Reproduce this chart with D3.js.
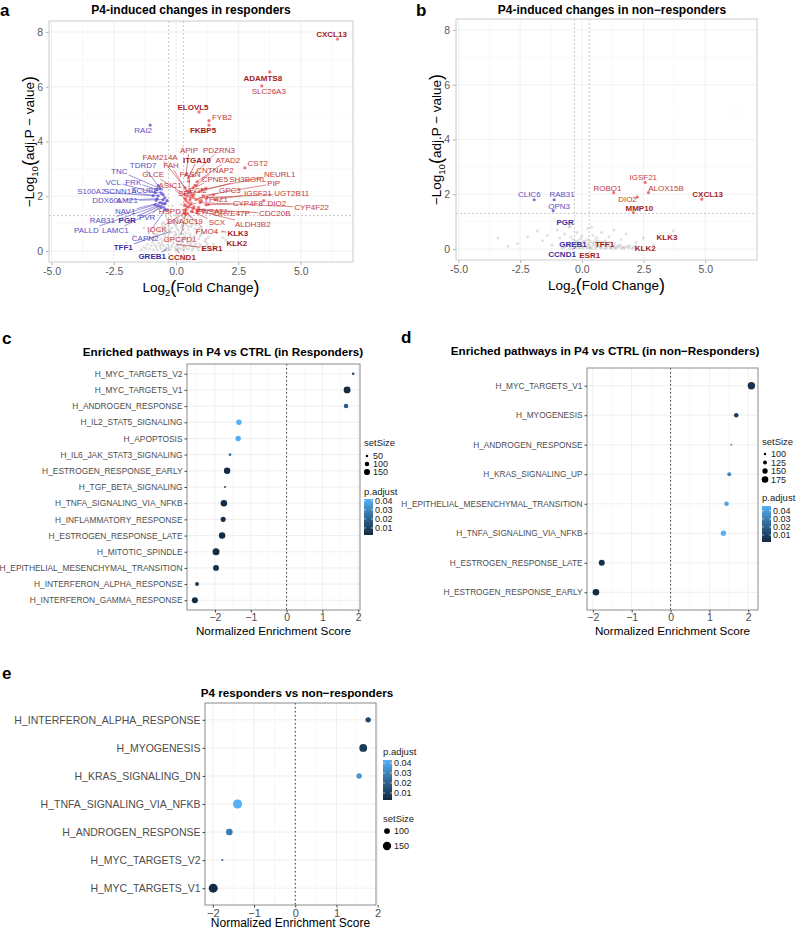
<!DOCTYPE html>
<html><head><meta charset="utf-8">
<script src="https://d3js.org/d3.v7.min.js"></script>
<style>body{margin:0;background:#fff}svg{display:block}</style>
</head><body><script>
// ================= DATA =================
// Panel a: P4-induced changes in responders (labelled genes)
const aGenes = ['CXCL13','ADAMTS8','SLC26A3','ELOVL5','FYB2','FKBP5','APIP','PDZRN3','ITGA10','ATAD2','CST2','CNTNAP2','NEURL1','CPNE5','SH3BGRL','PIP','FAM214A','FAH','FASN','GLCE','ASIC1','SRM','ECI2','GPC3','IGSF21','UGT2B11','CYP4Z1','CYP4F8','DIO2','CYP4F22','HSPD1','EWSAT1','OR7E47P','CDC20B','DNAJC19','SCX','ALDH3B2','IQCK','FMO4','GPCPD1','KLK3','KLK2','ESR1','CCND1',
  'RAI2','TDRD7','TNC','VCL','FRK','S100A2','SCNN1A','SCUBE2','DDX60L','AMZ1','NAV1','RAB31','PGR','PVR','PALLD','LAMC1','CAPN2','TFF1','GREB1'];
const aLfc = [6.48,3.76,3.44,0.92,1.32,1.32,0.40,0.68,0.50,0.84,2.76,0.80,1.04,0.68,0.92,1.08,0.36,0.42,0.50,0.36,0.36,0.40,0.56,0.80,1.56,1.24,0.56,1.20,3.52,0.96,0.36,0.44,0.68,0.92,0.38,0.64,0.84,0.36,0.45,0.38,1.84,1.88,0.04,0.04,
  -1.04,-0.72,-0.64,-0.84,-0.76,-0.92,-0.72,-0.52,-0.76,-0.52,-0.64,-0.84,-0.44,-0.36,-0.72,-0.60,-0.44,-0.24,-0.40];
const aLogP = [7.74,6.54,6.03,5.08,4.76,4.60,2.79,2.75,2.68,2.53,3.04,2.39,2.24,2.31,2.17,2.02,2.31,2.20,2.13,2.06,1.91,1.84,1.88,1.88,1.88,1.95,1.69,1.69,1.84,1.77,1.66,1.62,1.55,1.51,1.51,1.44,1.48,1.40,1.37,1.35,0.71,0.49,0.24,0.05,
  4.60,2.39,2.28,2.13,2.24,2.02,2.02,2.06,1.91,1.88,1.77,1.69,1.73,1.84,1.66,1.59,1.51,0.71,0.05];
// other significant / non-significant genes of panel a [log2FC, -log10 adj.P]
const aOtherUp = [[0.40,1.50],[0.50,1.60],[0.60,1.75],[0.70,1.95],[0.45,2.00],[0.55,2.20],[0.90,1.60],[1.00,1.85],[0.35,1.70],[0.75,2.40],[1.10,1.50],[1.30,1.70],[0.50,2.55],[0.62,1.45],[0.85,1.40],[1.50,2.05],[0.38,1.90],[0.65,2.05],[1.20,2.30],[0.48,1.78],[0.72,1.62],[0.58,1.98]];
const aOtherDown = [[-0.50,1.60],[-0.45,1.95],[-0.60,2.10],[-0.35,1.50],[-0.80,1.85],[-0.55,1.75]];
const aNs = [[-1.4,0.05],[-1.2,0.10],[-1.0,0.20],[-0.9,0.05],[-0.8,0.15],[-0.7,0.30],[-0.6,0.10],[-0.5,0.20],[-0.45,0.05],[-0.35,0.25],[-0.3,0.10],[-0.2,0.15],[-0.1,0.30],[0,0.05],[0.05,0.20],[0.1,0.10],[0.2,0.25],[0.3,0.05],[0.35,0.18],[0.45,0.30],[0.5,0.08],[0.6,0.20],[0.7,0.12],[0.8,0.28],[0.9,0.05],[1.0,0.18],[1.1,0.10],[1.25,0.22],[1.4,0.05],[1.55,0.12],
  [-1.1,0.40],[-0.9,0.50],[-0.75,0.62],[-0.6,0.45],[-0.5,0.70],[-0.4,0.38],[-0.3,0.55],[-0.2,0.68],[-0.1,0.42],[0,0.60],[0.1,0.50],[0.2,0.65],[0.25,0.35],[0.35,0.55],[0.45,0.45],[0.55,0.62],[0.65,0.40],[0.75,0.55],[0.9,0.45],[1.0,0.60],[1.15,0.38],[1.3,0.50],
  [-0.7,0.80],[-0.55,0.90],[-0.4,0.78],[-0.3,0.95],[-0.15,0.85],[0,0.92],[0.1,0.75],[0.2,0.88],[0.3,0.80],[0.4,0.95],[0.5,0.78],[0.6,0.90],[0.75,0.82],[0.85,0.72],[1.0,0.85],
  [-0.5,1.05],[-0.35,1.15],[-0.2,1.25],[-0.1,1.05],[0.05,1.20],[0.15,1.10],[0.25,1.28],[0.35,1.02],[0.45,1.18],[0.55,1.08],[0.7,1.12],[-0.25,1.45],[0.1,1.5],[0.2,1.7],[-0.15,1.65],
  [-2.0,0.30],[-1.7,0.55],[2.0,0.40],[2.3,0.20],[1.6,0.70],[-1.3,0.85],[-0.6,0.25],[0.15,0.38],[0.62,0.32],[-0.05,0.70],
  [-1.3,0.15],[-1.15,0.25],[-1.05,0.08],[-0.95,0.32],[-0.85,0.22],[-0.75,0.05],[-0.65,0.18],[-0.55,0.35],[-0.4,0.12],[-0.25,0.05],[-0.15,0.22],[-0.05,0.12],[0.08,0.35],[0.18,0.08],[0.28,0.15],[0.4,0.10],[0.55,0.25],[0.65,0.05],[0.75,0.20],[0.85,0.12],[0.95,0.25],[1.05,0.05],[1.2,0.30],[1.35,0.15],[1.5,0.25],
  [-0.85,0.60],[-0.65,0.72],[-0.45,0.58],[-0.25,0.45],[-0.05,0.55],[0.15,0.62],[0.3,0.45],[0.4,0.68],[0.6,0.52],[0.8,0.66],[0.95,0.55],[1.1,0.65],[1.2,0.45],
  [-0.55,1.00],[-0.45,0.88],[-0.25,0.82],[-0.05,0.98],[0.05,0.82],[0.25,0.95],[0.5,0.90],[0.65,0.98],[0.8,0.95],[0.9,0.82],
  [-0.4,1.25],[-0.28,1.05],[0.0,1.30],[0.12,1.38],[0.3,1.22],[0.6,1.25],[0.5,1.30]];

// Panel b: P4-induced changes in non-responders
const bGenes = ['CLIC6','RAB31','OPN3','PGR','GREB1','CCND1','TFF1','ESR1','KLK3','KLK2','ROBO1','IGSF21','ALOX15B','DIO2','MMP10','CXCL13'];
const bLfc  = [-1.93,-1.12,-1.16,-0.50,-0.15,-0.25,0.60,0.30,3.70,2.20,1.29,2.57,2.70,2.25,2.09,4.86];
const bLogP = [1.80,1.80,1.40,0.80,0.20,0.05,0.15,0.05,0.66,0.12,2.06,2.43,2.06,1.90,1.33,1.82];
const bNs = [[-0.8,0.05],[-0.6,0.12],[-0.5,0.02],[-0.4,0.20],[-0.3,0.08],[-0.2,0.15],[-0.1,0.03],[0,0.10],[0.1,0.22],[0.2,0.05],[0.3,0.14],[0.4,0.02],[0.5,0.18],[0.6,0.08],[0.7,0.12],[0.8,0.04],[0.9,0.16],[1.0,0.07],[1.1,0.12],[1.2,0.03],[1.3,0.10],[1.4,0.06],[1.5,0.09],[1.6,0.04],[1.75,0.07],[1.9,0.05],[2.05,0.03],
  [0.15,0.30],[0.35,0.28],[0.55,0.32],[0.75,0.26],[0.95,0.30],[-0.15,0.30],[-0.35,0.35],
  [-3.4,0.40],[-2.6,0.20],[-1.8,0.66],[-1.6,0.30],[-1.4,0.50],[-1.2,0.15],[-1.0,0.70],[-0.9,0.40],[-0.7,0.55],[-0.5,0.85],[-0.45,0.45],[-0.2,0.60],[0.0,0.48],[0.25,0.75],[0.4,0.80],[0.45,0.50],[0.6,0.42],[0.8,0.60],[1.1,0.45],[1.3,0.70],[1.6,0.35],[1.8,0.55],[2.2,0.25],[2.5,0.40],[2.9,0.15],[-2.2,0.45],[-3.0,0.10],
  [-0.7,0.08],[-0.55,0.18],[-0.45,0.10],[-0.25,0.22],[-0.05,0.18],[0.05,0.05],[0.15,0.12],[0.25,0.20],[0.35,0.06],[0.45,0.13],[0.55,0.04],[0.65,0.20],[0.75,0.06],[0.85,0.14],[0.95,0.03],[1.05,0.17],[1.15,0.05],[1.25,0.15],[1.35,0.02],[1.45,0.12],[1.55,0.16],[1.65,0.08],[1.7,0.02],[1.85,0.10],[1.95,0.12],[2.1,0.08],[0.05,0.28],[0.45,0.25],[0.65,0.30],[0.85,0.24],[1.15,0.25],[1.35,0.22],[-0.25,0.28],[0.25,0.35],[-0.05,0.38]];

// Genes highlighted in bold
const highlightGenes = ['CXCL13','ADAMTS8','ELOVL5','FKBP5','ITGA10','KLK3','KLK2','ESR1','CCND1','PGR','TFF1','GREB1','MMP10'];

// Label anchors (ggrepel placement, data units)
const aLabelAt = {CXCL13:[6.24,7.93],ADAMTS8:[3.48,6.32],SLC26A3:[3.72,5.85],ELOVL5:[0.68,5.27],FYB2:[1.84,4.90],FKBP5:[1.08,4.43],APIP:[0.52,3.70],PDZRN3:[1.72,3.70],ITGA10:[0.84,3.33],ATAD2:[2.08,3.33],CST2:[3.28,3.19],CNTNAP2:[1.56,2.97],NEURL1:[4.16,2.82],CPNE5:[1.56,2.64],SH3BGRL:[2.88,2.64],PIP:[3.92,2.46],FAM214A:[-0.64,3.44],FAH:[-0.2,3.12],FASN:[0.56,2.79],GLCE:[-0.92,2.79],ASIC1:[-0.24,2.39],SRM:[0.44,2.10],ECI2:[0.88,2.24],GPC3:[2.16,2.24],IGSF21:[3.28,2.10],UGT2B11:[4.64,2.10],CYP4Z1:[1.48,1.91],CYP4F8:[2.88,1.73],DIO2:[4.04,1.73],CYP4F22:[5.44,1.59],HSPD1:[-0.16,1.44],EWSAT1:[1.44,1.44],OR7E47P:[2.24,1.37],CDC20B:[3.96,1.37],DNAJC19:[0.36,1.08],SCX:[1.64,1.04],ALDH3B2:[3.08,0.97],IQCK:[-0.76,0.78],FMO4:[1.24,0.71],GPCPD1:[0.16,0.42],KLK3:[2.48,0.64],KLK2:[2.44,0.27],ESR1:[1.44,0.09],CCND1:[0.24,-0.24],
  RAI2:[-1.32,4.43],TDRD7:[-1.32,3.12],TNC:[-2.28,2.93],VCL:[-2.52,2.53],FRK:[-1.72,2.53],S100A2:[-3.4,2.17],SCNN1A:[-2.24,2.17],SCUBE2:[-1.16,2.24],DDX60L:[-2.76,1.84],AMZ1:[-1.96,1.84],NAV1:[-2.04,1.44],RAB31:[-2.96,1.11],PGR:[-1.96,1.11],PVR:[-1.16,1.22],PALLD:[-3.6,0.75],LAMC1:[-2.44,0.75],CAPN2:[-1.24,0.46],TFF1:[-2.12,0.13],GREB1:[-0.96,-0.2]};
const bLabelAt = {CLIC6:[-2.13,2.02],RAB31:[-0.8,2.02],OPN3:[-0.92,1.58],PGR:[-0.68,0.99],GREB1:[-0.36,0.18],CCND1:[-0.8,-0.18],TFF1:[0.92,0.18],ESR1:[0.32,-0.22],KLK3:[3.45,0.44],KLK2:[2.57,0.04],ROBO1:[1.04,2.24],IGSF21:[2.49,2.61],ALOX15B:[3.41,2.24],DIO2:[1.85,1.83],MMP10:[2.33,1.50],CXCL13:[5.1,2.02]};

const volcXTicks = [-5,-2.5,0,2.5,5];
const volcYTicks = [0,2,4,6,8];
const lfcCut = 0.3, padjCut = 1.3;

// Panel c
const catsC = ['H_MYC_TARGETS_V2','H_MYC_TARGETS_V1','H_ANDROGEN_RESPONSE','H_IL2_STAT5_SIGNALING','H_APOPTOSIS','H_IL6_JAK_STAT3_SIGNALING','H_ESTROGEN_RESPONSE_EARLY','H_TGF_BETA_SIGNALING','H_TNFA_SIGNALING_VIA_NFKB','H_INFLAMMATORY_RESPONSE','H_ESTROGEN_RESPONSE_LATE','H_MITOTIC_SPINDLE','H_EPITHELIAL_MESENCHYMAL_TRANSITION','H_INTERFERON_ALPHA_RESPONSE','H_INTERFERON_GAMMA_RESPONSE'];
const nesC  = [1.86,1.69,1.66,-1.33,-1.35,-1.58,-1.66,-1.72,-1.75,-1.77,-1.80,-1.97,-1.97,-2.50,-2.56];
const sizeC = [53,175,100,125,125,55,160,38,160,115,160,180,140,85,145];
const padjC = [0.012,0.0022,0.018,0.042,0.041,0.025,0.003,0.006,0.003,0.004,0.003,0.003,0.004,0.008,0.003];
// Panel d
const catsD = ['H_MYC_TARGETS_V1','H_MYOGENESIS','H_ANDROGEN_RESPONSE','H_KRAS_SIGNALING_UP','H_EPITHELIAL_MESENCHYMAL_TRANSITION','H_TNFA_SIGNALING_VIA_NFKB','H_ESTROGEN_RESPONSE_LATE','H_ESTROGEN_RESPONSE_EARLY'];
const nesD  = [2.08,1.69,1.56,1.51,1.44,1.36,-1.77,-1.92];
const sizeD = [190,135,95,125,137,150,162,174];
const padjD = [0.004,0.008,0.040,0.033,0.042,0.046,0.003,0.0013];
// Panel e
const catsE = ['H_INTERFERON_ALPHA_RESPONSE','H_MYOGENESIS','H_KRAS_SIGNALING_DN','H_TNFA_SIGNALING_VIA_NFKB','H_ANDROGEN_RESPONSE','H_MYC_TARGETS_V2','H_MYC_TARGETS_V1'];
const nesE  = [1.77,1.65,1.55,-1.40,-1.60,-1.77,-1.99];
const sizeE = [94,140,94,170,116,45,165];
const padjE = [0.012,0.008,0.035,0.043,0.028,0.020,0.003];

// ================= DRAWING =================
const W = 797, H = 929;
const FONT = '"Liberation Sans", Arial, Helvetica, sans-serif';
const svg = d3.select('body').append('svg').attr('width', W).attr('height', H).style('font-family', FONT);
svg.append('rect').attr('width', W).attr('height', H).attr('fill', '#fff');

const RED_PT = '#f05a5e', BLUE_PT = '#6a5acd', GRAY_PT = '#9a9a9a';
const RED_TXT = '#c23b3b', RED_BOLD = '#a51b1b', BLUE_TXT = '#5a4ec4', BLUE_BOLD = '#3a30a0';

function panelLetter(t, x, y) {
  svg.append('text').attr('x', x).attr('y', y).attr('font-size', 17).attr('font-weight', 'bold').text(t);
}

function drawVolcano(o) {
  const g = svg.append('g');
  const x = d3.scaleLinear().domain([-5.1, 7.1]).range([o.x0, o.x1]);
  const y = d3.scaleLinear().domain([-0.4, 8.4]).range([o.y1, o.y0]);
  const minorX = [-3.75, -1.25, 1.25, 3.75, 6.25], minorY = [1, 3, 5, 7];
  minorX.forEach(v => g.append('line').attr('x1', x(v)).attr('x2', x(v)).attr('y1', o.y0).attr('y2', o.y1).attr('stroke', '#f3f3f3').attr('stroke-width', 0.5));
  minorY.forEach(v => g.append('line').attr('y1', y(v)).attr('y2', y(v)).attr('x1', o.x0).attr('x2', o.x1).attr('stroke', '#f3f3f3').attr('stroke-width', 0.5));
  volcXTicks.forEach(v => g.append('line').attr('x1', x(v)).attr('x2', x(v)).attr('y1', o.y0).attr('y2', o.y1).attr('stroke', '#ebebeb').attr('stroke-width', 0.7));
  volcYTicks.forEach(v => g.append('line').attr('y1', y(v)).attr('y2', y(v)).attr('x1', o.x0).attr('x2', o.x1).attr('stroke', '#ebebeb').attr('stroke-width', 0.7));
  const xa = g.append('g').attr('transform', `translate(0,${o.y1})`)
    .call(d3.axisBottom(x).tickValues(volcXTicks).tickFormat(d3.format('.1f')).tickSize(3).tickPadding(3));
  const ya = g.append('g').attr('transform', `translate(${o.x0},0)`)
    .call(d3.axisLeft(y).tickValues(volcYTicks).tickFormat(d3.format('d')).tickSize(3).tickPadding(3));
  [xa, ya].forEach(a => {
    a.select('.domain').remove();
    a.selectAll('line').attr('stroke', '#b3b3b3');
    a.selectAll('text').attr('fill', '#595959').attr('font-size', 10.5).attr('font-family', FONT);
  });
  xa.selectAll('text').text(d => d3.format('.1f')(d).replace('\u2212', '-'));
  [-lfcCut, lfcCut].forEach(v => g.append('line').attr('x1', x(v)).attr('x2', x(v)).attr('y1', o.y0).attr('y2', o.y1).attr('stroke', '#a6a6a6').attr('stroke-width', 0.6).attr('stroke-dasharray', '2,2'));
  g.append('line').attr('x1', o.x0).attr('x2', o.x1).attr('y1', y(padjCut)).attr('y2', y(padjCut)).attr('stroke', '#a6a6a6').attr('stroke-width', 0.6).attr('stroke-dasharray', '2,2');
  g.append('rect').attr('x', o.x0).attr('y', o.y0).attr('width', o.x1 - o.x0).attr('height', o.y1 - o.y0).attr('fill', 'none').attr('stroke', '#cccccc').attr('stroke-width', 1);

  const colOf = (l, p) => (p > padjCut && l > lfcCut) ? RED_PT : (p > padjCut && l < -lfcCut) ? BLUE_PT : GRAY_PT;
  g.selectAll(null).data(o.ns).enter().append('circle')
    .attr('cx', d => x(d[0])).attr('cy', d => y(d[1])).attr('r', 1.5)
    .attr('fill', GRAY_PT).attr('fill-opacity', 0.3);
  (o.others || []).forEach(d => g.append('circle').attr('cx', x(d[0])).attr('cy', y(d[1])).attr('r', 1.6)
    .attr('fill', colOf(d[0], d[1])).attr('fill-opacity', colOf(d[0], d[1]) === GRAY_PT ? 0.3 : 0.75));
  o.genes.forEach((gn, i) => {
    const l = o.lfc[i], p = o.logp[i];
    const c = colOf(l, p);
    g.append('circle').attr('cx', x(l)).attr('cy', y(p)).attr('r', 1.6).attr('fill', c).attr('fill-opacity', c === GRAY_PT ? 0.3 : 0.85);
  });
  const lg = g.append('g');
  o.genes.forEach((gn, i) => {
    const l = o.lfc[i], p = o.logp[i];
    const bold = highlightGenes.includes(gn);
    const col = l > 0 ? (bold ? RED_BOLD : RED_TXT) : (bold ? BLUE_BOLD : BLUE_TXT);
    const at = o.labelAt[gn];
    const cx = x(at[0]), cy = y(at[1]);
    const t = lg.append('text').attr('x', cx).attr('y', cy).attr('dy', '0.35em').attr('text-anchor', 'middle')
      .attr('font-size', 8).attr('font-weight', bold ? 'bold' : 'normal').attr('fill', col).text(gn);
    const bb = t.node().getBBox();
    const hw = bb.width / 2 + 1, hh = bb.height / 2;
    const px = x(l), py = y(p);
    const dx = px - cx, dy = py - cy;
    if (Math.abs(dx) <= hw && Math.abs(dy) <= hh) return;
    const tt = Math.min(dx === 0 ? Infinity : hw / Math.abs(dx), dy === 0 ? Infinity : hh / Math.abs(dy));
    const ex = cx + dx * tt, ey = cy + dy * tt;
    if (Math.hypot(px - ex, py - ey) < 4) return;
    g.insert('line', () => lg.node()).attr('x1', ex).attr('y1', ey).attr('x2', px).attr('y2', py)
      .attr('stroke', col).attr('stroke-width', 0.6);
  });
  svg.append('text').attr('x', o.titleX).attr('y', o.titleY).attr('text-anchor', 'middle')
    .attr('font-size', 12).attr('font-weight', 'bold').text(o.title);
  const xt = svg.append('text').attr('x', (o.x0 + o.x1) / 2).attr('y', o.y1 + 30).attr('text-anchor', 'middle').attr('font-size', 13.5);
  xt.append('tspan').text('Log');
  xt.append('tspan').attr('font-size', 9.5).attr('dy', 3.5).text('2');
  xt.append('tspan').attr('font-size', 18).attr('dy', -2.5).text('(');
  xt.append('tspan').attr('dy', -1).text('Fold Change');
  xt.append('tspan').attr('font-size', 18).attr('dy', 1).text(')');
  const ycx = o.x0 - 15, ycy = (o.y0 + o.y1) / 2;
  const yt = svg.append('text').attr('transform', `translate(${ycx},${ycy}) rotate(-90)`).attr('text-anchor', 'middle').attr('font-size', 13.5);
  yt.append('tspan').text('\u2212Log');
  yt.append('tspan').attr('font-size', 9.5).attr('dy', 3.5).text('10');
  yt.append('tspan').attr('font-size', 18).attr('dy', -2.5).text('(');
  yt.append('tspan').attr('dy', -1).text('adj.P \u2212 value');
  yt.append('tspan').attr('font-size', 18).attr('dy', 1).text(')');
}

function drawEnrich(o) {
  const g = svg.append('g');
  const x = d3.scaleLinear().domain(o.xdom).range([o.x0, o.x1]);
  const y = d3.scalePoint().domain(o.cats).range([o.y0, o.y1]).padding(0.6);
  const r = d3.scaleSqrt().domain(d3.extent(o.size)).range(o.r);
  const pext = d3.extent(o.padj);
  const col = d3.scaleLinear().domain(pext).range(['#132B43', '#56B1F7']).interpolate(d3.interpolateLab);
  const ticks = [-2, -1, 0, 1, 2];
  const minor = [-2.5, -1.5, -0.5, 0.5, 1.5].filter(v => v > o.xdom[0] && v < o.xdom[1]);
  minor.forEach(v => g.append('line').attr('x1', x(v)).attr('x2', x(v)).attr('y1', o.y0).attr('y2', o.y1).attr('stroke', '#f2f2f2').attr('stroke-width', 0.5));
  ticks.forEach(v => g.append('line').attr('x1', x(v)).attr('x2', x(v)).attr('y1', o.y0).attr('y2', o.y1).attr('stroke', '#ebebeb').attr('stroke-width', 0.8));
  o.cats.forEach(c => g.append('line').attr('x1', o.x0).attr('x2', o.x1).attr('y1', y(c)).attr('y2', y(c)).attr('stroke', '#ebebeb').attr('stroke-width', 0.8));
  g.append('line').attr('x1', x(0)).attr('x2', x(0)).attr('y1', o.y0).attr('y2', o.y1).attr('stroke', '#222').attr('stroke-width', 0.9).attr('stroke-dasharray', '1.5,2.5');
  g.selectAll(null).data(o.cats).enter().append('circle')
    .attr('cx', (d, i) => x(o.nes[i])).attr('cy', d => y(d)).attr('r', (d, i) => r(o.size[i]))
    .attr('fill', (d, i) => col(o.padj[i]));
  g.append('rect').attr('x', o.x0).attr('y', o.y0).attr('width', o.x1 - o.x0).attr('height', o.y1 - o.y0)
    .attr('fill', 'none').attr('stroke', '#8a8a8a').attr('stroke-width', 1);
  const xa = g.append('g').attr('transform', `translate(0,${o.y1})`).call(d3.axisBottom(x).tickValues(ticks).tickFormat(d3.format('d')).tickSize(2.5).tickPadding(1.5));
  const ya = g.append('g').attr('transform', `translate(${o.x0},0)`).call(d3.axisLeft(y).tickSize(2.5).tickPadding(2));
  [xa, ya].forEach(a => { a.select('.domain').remove(); a.selectAll('line').attr('stroke', '#444'); a.selectAll('text').attr('fill', '#4d4d4d').attr('font-family', FONT); });
  xa.selectAll('text').attr('font-size', o.tickFont);
  ya.selectAll('text').attr('font-size', o.catFont);
  svg.append('text').attr('x', o.titleX).attr('y', o.titleY).attr('text-anchor', 'middle').attr('font-size', 11.7).attr('font-weight', 'bold').text(o.title);
  svg.append('text').attr('x', (o.x0 + o.x1) / 2).attr('y', o.axisY).attr('text-anchor', 'middle').attr('font-size', o.axisFont).text('Normalized Enrichment Score');
  const L = o.leg;
  svg.append('text').attr('x', L.sx).attr('y', L.sTitleY).attr('font-size', 9.5).attr('fill', '#222').text('setSize');
  L.sVals.forEach((v, i) => {
    const cy = L.sY0 + i * L.sStep;
    svg.append('circle').attr('cx', L.sx + L.cOff).attr('cy', cy).attr('r', r(v)).attr('fill', '#000');
    svg.append('text').attr('x', L.sx + L.tOff).attr('y', cy).attr('dy', '0.35em').attr('font-size', 9).attr('fill', '#222').text(v);
  });
  svg.append('text').attr('x', L.sx).attr('y', L.pTitleY).attr('font-size', 9.5).attr('fill', '#222').text('p.adjust');
  const gid = 'grad' + o.id;
  const gr = svg.append('defs').append('linearGradient').attr('id', gid).attr('x1', 0).attr('x2', 0).attr('y1', 1).attr('y2', 0);
  d3.range(0, 1.0001, 0.1).forEach(t => gr.append('stop').attr('offset', t).attr('stop-color', col(pext[0] + t * (pext[1] - pext[0]))));
  const barY = d3.scaleLinear().domain(pext).range([L.bBot, L.bTop]);
  svg.append('rect').attr('x', L.sx).attr('y', L.bTop).attr('width', 9).attr('height', L.bBot - L.bTop).attr('fill', `url(#${gid})`);
  [0.01, 0.02, 0.03, 0.04].forEach(v => {
    svg.append('line').attr('x1', L.sx).attr('x2', L.sx + 2).attr('y1', barY(v)).attr('y2', barY(v)).attr('stroke', '#fff').attr('stroke-width', 0.6);
    svg.append('line').attr('x1', L.sx + 7).attr('x2', L.sx + 9).attr('y1', barY(v)).attr('y2', barY(v)).attr('stroke', '#fff').attr('stroke-width', 0.6);
    svg.append('text').attr('x', L.sx + 11).attr('y', barY(v)).attr('dy', '0.35em').attr('font-size', 9).attr('fill', '#222').text(v.toFixed(2));
  });
}

panelLetter('a', 0, 16);
panelLetter('b', 416, 16);
panelLetter('c', 2, 344);
panelLetter('d', 401, 343);
panelLetter('e', 2, 679);

drawVolcano({x0: 49, x1: 353, y0: 21, y1: 262, ns: aNs, others: aOtherUp.concat(aOtherDown), genes: aGenes, lfc: aLfc, logp: aLogP, labelAt: aLabelAt,
  title: 'P4-induced changes in responders', titleX: 191, titleY: 14});
drawVolcano({x0: 456, x1: 757, y0: 19, y1: 260, ns: bNs, others: [], genes: bGenes, lfc: bLfc, logp: bLogP, labelAt: bLabelAt,
  title: 'P4-induced changes in non\u2212responders', titleX: 612, titleY: 14});

drawEnrich({id: 'c', cats: catsC, nes: nesC, size: sizeC, padj: padjC, x0: 187, x1: 360, y0: 364, y1: 610, xdom: [-2.78, 2.05], r: [0.9, 3.5],
  catFont: 8.4, tickFont: 10.5, title: 'Enriched pathways in P4 vs CTRL (in Responders)', titleX: 223, titleY: 356, axisY: 635, axisFont: 11.7,
  leg: {sx: 364, sTitleY: 446, sVals: [50, 100, 150], sY0: 456, sStep: 8, cOff: 3, tOff: 9, pTitleY: 495, bTop: 499, bBot: 535}});
drawEnrich({id: 'd', cats: catsD, nes: nesD, size: sizeD, padj: padjD, x0: 587, x1: 758, y0: 368, y1: 610, xdom: [-2.15, 2.25], r: [1.0, 3.7],
  catFont: 8.3, tickFont: 10.5, title: 'Enriched pathways in P4 vs CTRL (in non\u2212Responders)', titleX: 605, titleY: 355, axisY: 635, axisFont: 11.7,
  leg: {sx: 762, sTitleY: 445, sVals: [100, 125, 150, 175], sY0: 454, sStep: 8.5, cOff: 3, tOff: 9, pTitleY: 501, bTop: 506, bBot: 542}});
drawEnrich({id: 'e', cats: catsE, nes: nesE, size: sizeE, padj: padjE, x0: 205, x1: 376, y0: 703, y1: 905, xdom: [-2.19, 1.96], r: [1.0, 4.6],
  catFont: 10.5, tickFont: 11, title: 'P4 responders vs non\u2212responders', titleX: 297, titleY: 697, axisY: 926.5, axisFont: 12,
  leg: {sx: 383, sTitleY: 822, sVals: [100, 150], sY0: 831, sStep: 15, cOff: 4, tOff: 11, pTitleY: 755, bTop: 760, bBot: 800}});
</script></body></html>
